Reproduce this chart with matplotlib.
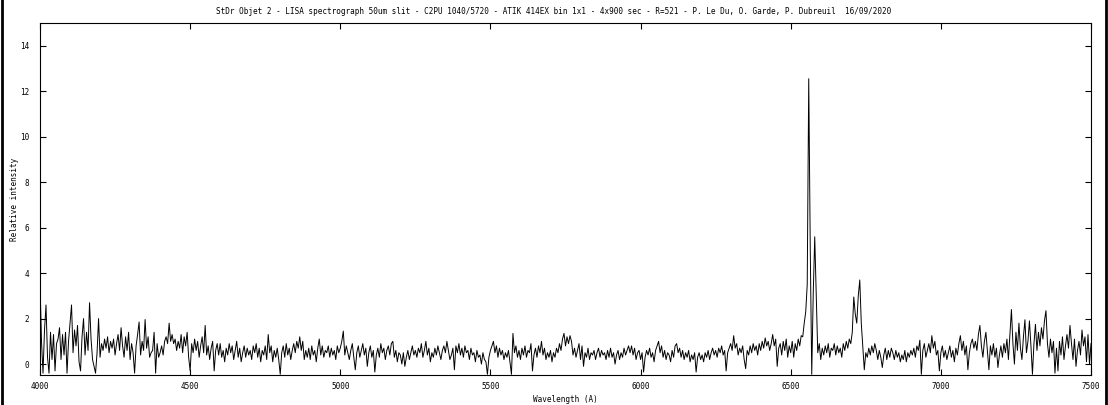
import numpy as np
import matplotlib
matplotlib.use("Agg")
import matplotlib.pyplot as plt
from matplotlib.lines import Line2D

wl_start = 4000
wl_step = 5

intensity = [
    # 4000
    3.6, 1.0, -0.4, 1.5, 2.6, 0.3, -0.4, 1.4, 0.2, 1.3, -0.3, 0.9, 1.1, 1.6, 0.2, 1.3, 0.4, 1.4, -0.4, 1.0,
    # 4100
    1.8, 2.6, 0.5, 1.5, 0.8, 1.7, 0.1, -0.3, 1.2, 2.0, 0.4, 1.4, 0.6, 2.7, 1.1, 0.2, -0.1, -0.4, 0.5, 2.0,
    # 4200
    0.3, 0.9, 0.6, 1.1, 0.7, 1.2, 0.5, 1.0, 0.7, 1.1, 0.4, 0.9, 1.3, 0.6, 1.6, 0.8, 0.3, 1.2, 0.6, 1.4,
    # 4300
    0.2, 0.9, 0.5, -0.4, 0.8, 1.3, 1.85, 0.4, 1.0, 0.6, 1.96, 0.7, 1.2, 0.3, 0.5, 0.6, 1.4, -0.4, 0.9, 0.3,
    # 4400
    0.5, 0.8, 0.4, 1.0, 1.2, 0.9, 1.8, 1.0, 1.3, 0.9, 1.1, 0.6, 1.0, 0.7, 1.3, 0.5, 1.2, 0.8, 1.4, 0.3,
    # 4500
    -0.3, 0.9, 0.5, 1.1, 0.6, 1.0, 0.3, 0.8, 1.2, 0.5, 1.7, 0.4, 0.8, 0.2, 0.7, 1.0, -0.3, 0.6, 0.9, 0.4,
    # 4600
    0.9, 0.3, 0.6, 0.1, 0.7, 0.4, 0.9, 0.5, 0.8, 0.2, 0.6, 1.0, 0.3, 0.7, 0.1, 0.5, 0.8, 0.3, 0.7, 0.4,
    # 4700
    0.6, 0.2, 0.8, 0.5, 0.9, 0.3, 0.7, 0.1, 0.6, 0.4, 0.8, 0.2, 1.3, 0.5, 0.8, 0.1, 0.6, 0.3, 0.7, 0.2,
    # 4800
    -0.45, 0.5, 0.8, 0.3, 0.9, 0.4, 0.7, 0.2, 0.6, 0.9, 0.5, 1.0, 0.7, 1.2, 0.6, 1.0, 0.2, 0.6, 0.3, 0.7,
    # 4900
    0.2, 0.8, 0.4, 0.6, 0.1, 0.7, 1.1, 0.4, 0.8, 0.3, 0.6, 0.5, 0.8, 0.3, 0.7, 0.4, 0.6, 0.2, 0.8, 0.5,
    # 5000
    0.7, 1.0, 1.45, 0.4, 0.8, 0.5, 0.2, 0.6, 0.9, 0.3, -0.25, 0.5, 0.8, 0.3, 0.6, 0.9, 0.4, 0.7, -0.1, 0.5,
    # 5100
    0.8, 0.3, 0.6, -0.35, 0.4, 0.7, 0.3, 0.9, 0.5, 0.7, 0.2, 0.6, 0.8, 0.4, 0.9, 1.0, 0.3, 0.6, 0.1, 0.5,
    # 5200
    0.4, 0.0, 0.5, -0.1, 0.3, 0.6, 0.2, 0.5, 0.8, 0.4, 0.6, 0.3, 0.7, 0.5, 0.9, 0.3, 0.6, 1.0, 0.4, 0.7,
    # 5300
    0.1, 0.5, 0.3, 0.7, 0.4, 0.8, 0.5, 0.2, 0.6, 0.8, 0.5, 1.0, 0.6, 0.2, 0.4, 0.7, -0.25, 0.8, 0.5, 0.9,
    # 5400
    0.4, 0.7, 0.3, 0.8, 0.5, 0.6, 0.2, 0.7, 0.4, 0.5, 0.1, 0.6, 0.3, 0.4, 0.0, 0.5, 0.2, 0.1, -0.45, 0.3,
    # 5500
    0.6, 0.8, 1.0, 0.5, 0.8, 0.3, 0.7, 0.4, 0.6, 0.2, 0.5, 0.3, 0.6, 0.1, -0.45, 1.35, 0.5, 0.8, 0.3, 0.6,
    # 5600
    0.2, 0.7, 0.4, 0.8, 0.3, 0.6, 0.5, 0.9, -0.3, 0.4, 0.7, 0.3, 0.8, 0.5, 1.0, 0.4, 0.7, 0.2, 0.5, 0.3,
    # 5700
    0.6, 0.1, 0.5, 0.3, 0.7, 0.5, 0.9, 0.6, 1.1, 1.35, 0.8, 1.2, 0.9, 1.25, 1.0, 0.4, 0.7, 0.3, 0.6, 0.9,
    # 5800
    0.2, 0.8, -0.1, 0.5, 0.3, 0.7, 0.2, 0.5, 0.4, 0.6, 0.2, 0.5, 0.7, 0.3, 0.6, 0.4, 0.5, 0.2, 0.6, 0.3,
    # 5900
    0.7, 0.3, 0.5, 0.0, 0.4, 0.6, 0.2, 0.5, 0.3, 0.7, 0.4, 0.6, 0.8, 0.5, 0.8, 0.4, 0.7, 0.2, 0.5, 0.6,
    # 6000
    0.2, 0.5, -0.35, 0.3, 0.6, 0.4, 0.7, 0.3, 0.5, 0.1, 0.6, 0.8, 1.0, 0.5, 0.8, 0.3, 0.6, 0.2, 0.5, 0.4,
    # 6100
    0.1, 0.6, 0.3, 0.8, 0.9, 0.5, 0.7, 0.3, 0.6, 0.2, 0.5, 0.3, 0.6, 0.1, 0.4, 0.2, 0.5, -0.35, 0.3, 0.5,
    # 6200
    0.2, 0.4, 0.1, 0.5, 0.3, 0.6, 0.2, 0.5, 0.7, 0.4, 0.6, 0.3, 0.7, 0.5, 0.8, 0.4, 0.6, -0.3, 0.5, 0.7,
    # 6300
    0.9, 0.6, 1.25, 0.7, 0.9, 0.4, 0.7, 0.5, 0.8, 0.2, -0.2, 0.6, 0.4, 0.8, 0.5, 0.9, 0.6, 0.8, 0.4, 0.9,
    # 6400
    0.6, 1.0, 0.7, 1.15, 0.8, 1.0, 0.6, 0.9, 1.3, 0.8, 1.1, -0.1, 0.7, 0.9, 0.4, 1.0, 0.6, 1.1, 0.3, 0.8,
    # 6500  (H-alpha + [NII])
    0.5, 1.0, 0.3, 0.9, 0.6, 1.1, 0.8, 1.25, 1.2, 1.8, 2.3, 3.5, 12.55, 5.2, -0.45, 3.1, 5.6, 3.0, 0.5, 0.9,
    # 6600
    0.2, 0.7, 0.4, 0.8, 0.5, 0.9, 0.3, 0.7, 0.6, 0.9, 0.4, 0.8, 0.5, 0.7, 0.3, 0.9, 0.6, 1.0, 0.7, 1.1,
    # 6700  ([SII])
    0.9, 1.4, 2.95, 2.2, 1.8, 3.0, 3.7, 1.8, 0.8, -0.25, 0.5, 0.3, 0.7, 0.4, 0.8, 0.5, 0.9, 0.6, 0.2, 0.6,
    # 6800
    0.3, -0.15, 0.4, 0.7, 0.2, 0.6, 0.3, 0.7, 0.5, 0.2, 0.6, 0.3, 0.5, 0.1, 0.4, 0.2, 0.6, 0.1, 0.5, 0.3,
    # 6900
    0.6, 0.4, 0.7, 0.3, 0.8, 0.6, 1.05, -0.45, 0.6, 0.9, 0.3, 0.6, 0.9, 0.5, 1.25, 0.7, 1.0, 0.4, 0.6, -0.3,
    # 7000
    0.5, 0.8, 0.3, 0.6, 0.2, 0.5, 0.8, 0.3, 0.6, 0.1, 0.7, 0.4, 0.9, 1.25, 0.6, 1.0, 0.4, 0.8, -0.25, 0.5,
    # 7100
    0.9, 1.1, 0.7, 1.0, 0.6, 1.3, 1.7, 0.8, 0.3, 1.0, 1.4, 0.6, -0.25, 0.8, 0.4, 0.9, 0.3, 0.7, -0.15, 0.4,
    # 7200
    0.8, 0.3, 0.9, 0.5, 1.1, 0.2, 1.3, 2.4, 0.9, 0.0, 1.4, 0.6, 1.8, 0.7, 0.2, 1.2, 1.95, 0.5, 1.0, 1.9,
    # 7300
    0.8, -0.45, 0.9, 1.75, 0.6, 1.4, 0.8, 1.6, 1.1, 1.9, 2.35, 0.9, 0.3, 1.1, 0.5, 1.0, -0.4, 0.7, -0.3, 1.0,
    # 7400
    0.4, 1.2, 0.2, 0.8, 1.3, 0.7, 1.7, 0.9, 0.2, 1.1, -0.1, 0.6, 1.0, 0.4, 1.5, 0.8, 1.2, 0.1, 1.3, 0.0,
    0.9,
]

wavelength = wl_start + wl_step * np.arange(len(intensity))

title = ("StDr Objet 2 - LISA spectrograph 50um slit - C2PU 1040/5720 - ATIK 414EX bin 1x1 "
         "- 4x900 sec - R=521 - P. Le Du, O. Garde, P. Dubreuil  16/09/2020")

plt.rcParams['font.family'] = ['DejaVu Sans Mono']
fs = 5.5

fig = plt.figure(figsize=(11.08, 4.05), dpi=100)
ax = fig.add_axes([40 / 1108, 1 - 375 / 405, 1051 / 1108, 352 / 405])

ax.plot(wavelength, intensity, color='black', lw=0.7)

ax.set_xlim(4000, 7500)
ax.set_ylim(-0.48, 15)
ax.set_xticks(np.arange(4000, 7501, 500))
ax.set_yticks(np.arange(0, 15, 2))
ax.tick_params(direction='in', length=4, width=0.8, top=True, right=True, labelsize=fs)
ax.tick_params(axis='y', pad=8)
ax.tick_params(axis='x', pad=5)
for s in ax.spines.values():
    s.set_linewidth(0.8)

ax.set_xlabel('Wavelength (A)', fontsize=fs)
ax.set_ylabel('Relative intensity', fontsize=fs)
ax.xaxis.set_label_coords(0.5, -0.056)
ax.yaxis.set_label_coords(-21 / 1051, 0.5)
fig.text(0.5, 1 - 12 / 405, title, ha='center', va='center', fontsize=fs)

# black edges of the original screenshot
fig.add_artist(Line2D([0.002, 0.002], [0, 1], color='black', lw=2, transform=fig.transFigure))
fig.add_artist(Line2D([0.998, 0.998], [0, 1], color='black', lw=2, transform=fig.transFigure))

fig.savefig('out.png', dpi=100)
